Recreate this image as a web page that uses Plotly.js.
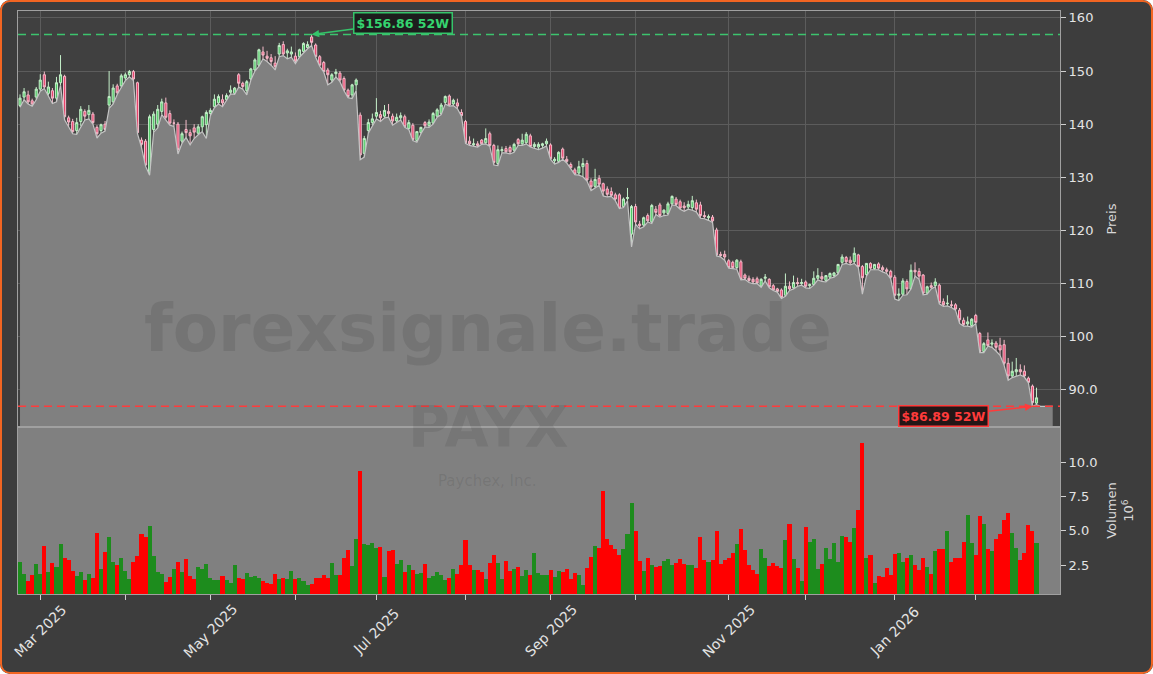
<!DOCTYPE html>
<html>
<head>
<meta charset="utf-8">
<script src="https://cdn.plot.ly/plotly-3.0.1.min.js"></script>
<style>
html,body{margin:0;padding:0;background:#ffffff;}
#wrap{position:relative;width:1153px;height:674px;border-radius:10px;overflow:hidden;}
#chart{position:absolute;left:0;top:0;width:1153px;height:674px;}
#frame{position:absolute;left:0;top:0;right:0;bottom:0;border:2px solid #f26522;border-radius:10px;pointer-events:none;}
</style>
</head>
<body>
<div id="wrap"><div id="chart"></div><div id="frame"></div></div>
<script>
// ---- data (PAYX daily, 2025-02-24 .. 2026-02-24) ----
const startDate = '2025-02-24';
const endDate = '2026-02-24';
const holidays = ['2025-04-18','2025-05-26','2025-06-19','2025-07-04','2025-09-01','2025-11-27','2025-12-25','2026-01-01','2026-01-19','2026-02-16'];
const futureDates = ['2026-02-25','2026-02-26','2026-02-27','2026-03-02'];

const openP = [
143.5,145.1,145.5,144.4,145.1,146.6,149.3,145.8,146.3,144.9,
147.8,149.0,141.2,140.5,138.8,140.5,142.4,141.8,141.9,139.4,
138.8,140.0,143.6,144.2,147.2,147.2,148.7,149.3,149.9,147.8,
137.0,136.8,130.8,139.0,140.0,142.4,144.0,142.0,140.2,140.0,
136.8,139.0,138.4,139.3,138.3,139.5,139.9,142.0,143.3,144.0,
144.6,144.6,146.0,145.8,149.3,147.7,146.3,148.5,150.2,151.1,
153.6,152.8,152.5,151.5,153.2,155.0,153.4,153.2,152.8,152.7,
153.7,154.4,156.4,154.9,152.7,151.6,150.2,148.3,149.5,149.6,
148.6,146.4,145.5,147.4,141.7,134.5,138.8,140.3,141.5,141.8,
141.5,142.4,141.5,140.6,141.2,141.4,139.2,139.8,136.9,138.4,
140.3,139.7,140.2,141.5,142.0,144.1,145.3,143.8,144.0,142.2,
140.5,136.8,136.1,136.3,137.0,136.5,138.2,136.0,132.6,135.0,
135.4,135.6,135.1,137.1,136.3,136.5,137.8,135.8,135.7,136.0,
136.3,136.1,133.1,133.0,135.3,133.4,132.4,131.4,130.8,132.0,
132.6,129.3,128.3,129.8,128.8,127.8,127.3,126.7,126.7,124.5,
126.0,119.3,124.5,121.2,121.0,122.8,121.6,124.0,124.8,123.3,
123.2,125.0,125.9,125.4,124.6,124.4,124.3,125.2,124.8,122.8,
122.4,122.5,120.1,115.5,115.5,114.3,114.0,113.0,114.1,111.6,
111.0,110.8,110.9,109.5,111.0,110.8,109.6,109.0,108.8,107.8,
109.5,109.2,110.2,110.0,110.3,109.6,109.8,111.0,111.3,110.6,
111.2,111.5,112.0,114.0,114.9,114.4,114.1,115.4,113.2,111.7,
113.8,112.8,113.7,113.0,112.6,112.3,111.2,107.8,108.0,110.4,
109.0,112.5,112.3,111.6,108.2,109.6,109.6,109.7,106.6,106.2,
106.0,106.0,105.0,103.1,102.4,102.1,104.0,100.6,97.2,99.4,
98.6,98.8,98.4,98.5,95.0,92.6,93.4,93.8,93.5,92.2,
90.7,87.5];

const highP = [
145.6,146.8,146.3,144.8,147.0,149.4,149.9,148.0,146.8,148.9,
153.0,149.3,141.6,141.0,141.2,143.4,142.8,143.6,142.3,139.8,
140.1,140.6,150.0,147.5,147.6,149.5,149.7,150.2,150.2,148.0,
137.5,137.2,141.8,142.4,143.6,144.8,145.0,142.6,140.9,140.4,
138.6,140.8,139.0,140.0,140.0,141.6,142.6,143.0,145.6,145.6,
145.6,145.8,147.3,147.0,149.6,148.0,148.3,150.6,152.4,154.2,
154.6,153.8,153.2,152.8,155.3,155.6,154.2,154.6,153.5,154.2,
155.4,155.6,156.86,155.2,153.0,151.9,150.6,149.6,150.4,150.0,
149.0,146.7,147.6,148.6,142.2,137.8,141.0,142.0,144.9,142.5,
143.6,143.8,142.0,142.0,142.2,141.8,140.8,140.2,138.6,139.5,
140.6,140.9,142.3,143.0,144.0,145.4,145.6,144.8,144.8,142.8,
140.8,137.7,137.3,136.8,137.2,139.2,138.6,136.3,136.0,135.8,
135.9,136.0,136.5,137.4,138.2,138.5,138.2,136.6,136.6,136.5,
137.3,136.4,133.8,134.9,135.6,134.0,132.8,131.8,133.1,133.6,
133.2,129.8,131.6,130.4,129.0,128.3,128.1,127.1,127.0,126.2,
128.0,124.8,125.0,121.8,122.6,123.2,125.0,124.6,125.2,124.0,
125.4,126.6,126.3,125.8,125.3,125.6,126.5,125.8,125.4,123.6,
123.0,122.9,120.5,116.0,116.2,114.6,114.3,114.6,114.5,111.9,
111.5,111.2,111.3,111.0,111.8,111.0,109.9,109.2,109.1,111.9,
110.4,111.5,111.1,110.9,110.6,110.0,112.3,112.9,112.2,111.6,
112.1,112.2,113.7,115.5,115.2,115.1,116.8,115.6,113.5,113.8,
114.0,113.7,114.0,113.4,113.0,112.6,111.6,109.1,111.0,110.8,
113.6,114.0,112.9,111.8,109.6,110.2,111.0,110.0,107.2,107.8,
106.8,106.3,105.4,103.6,103.8,103.5,104.3,100.9,99.0,100.8,
99.5,99.2,99.8,99.4,96.0,95.3,96.0,94.8,94.6,92.5,
91.0,90.4];

const lowP = [
143.2,144.6,143.8,143.4,144.6,146.2,146.7,145.4,143.9,144.2,
147.3,140.8,139.6,138.2,138.1,139.6,140.8,141.0,140.0,137.4,
138.3,138.7,143.0,143.8,145.6,146.9,148.2,148.9,148.2,138.2,
135.6,132.1,130.4,138.5,139.3,141.8,140.9,139.8,139.6,134.4,
136.4,137.5,136.1,137.3,138.0,138.6,137.3,141.6,143.1,143.8,
143.3,144.4,145.7,145.6,147.0,146.6,145.5,148.3,150.0,150.9,
152.3,151.8,151.1,150.2,152.7,152.9,152.3,152.6,151.4,152.6,
153.5,154.2,154.8,152.6,150.9,149.8,147.4,147.9,148.9,148.0,
146.3,145.0,144.8,146.3,133.3,133.8,138.3,139.8,141.0,140.5,
141.2,141.3,139.8,140.3,140.8,139.4,139.0,136.9,136.6,138.2,
139.5,139.4,140.0,141.3,141.8,143.8,143.4,143.5,142.9,141.5,
136.4,136.0,135.8,135.7,136.2,136.3,135.8,132.3,132.2,134.6,
134.6,134.4,134.7,136.0,136.0,136.3,135.7,135.4,135.2,135.5,
135.9,133.4,132.5,132.8,133.4,132.7,131.7,130.5,130.4,130.1,
129.3,127.5,128.0,128.5,126.5,126.3,126.4,125.6,124.1,124.3,
125.6,116.9,121.2,120.3,120.7,121.6,121.3,123.0,122.5,122.8,
122.9,124.8,124.7,124.0,123.6,124.0,123.8,123.5,122.3,122.2,
121.9,121.5,115.2,115.0,114.4,112.9,112.8,112.7,110.7,110.8,
110.2,110.0,110.0,109.3,110.5,109.2,108.7,108.4,107.2,107.6,
108.7,109.0,109.5,109.7,109.2,109.1,109.7,110.7,110.4,110.3,
111.0,111.2,111.8,113.6,113.8,113.5,113.8,113.0,108.0,111.4,
112.6,112.6,112.6,112.2,111.9,110.9,107.1,106.8,107.8,107.9,
109.0,111.4,110.8,107.9,108.0,109.0,109.4,106.2,105.7,105.8,
105.5,105.0,102.5,102.0,102.0,101.8,102.5,97.0,97.0,98.2,
98.0,97.3,96.5,94.6,91.8,92.3,92.6,92.8,92.4,91.3,
86.89,87.2];

const closeP = [
144.9,146.1,144.2,143.8,146.6,148.3,147.0,147.0,144.9,147.8,
149.3,141.4,140.4,138.6,140.3,142.8,141.5,142.6,140.3,138.2,
139.9,139.0,145.2,146.8,145.9,149.1,149.3,149.9,148.5,138.4,
136.2,132.3,141.4,141.9,142.8,144.2,141.3,140.2,140.2,135.2,
138.2,138.4,137.8,138.5,139.5,141.4,142.2,142.6,144.7,145.2,
144.0,145.4,146.4,146.8,147.7,147.1,148.0,150.4,152.1,154.0,
153.0,152.4,151.8,150.8,154.8,153.2,153.8,153.6,151.9,154.0,
155.2,155.0,155.4,152.7,151.1,149.9,149.3,149.3,149.8,148.3,
146.4,145.2,147.4,148.3,134.2,137.3,140.3,141.0,142.2,141.2,
142.6,142.0,140.6,141.3,141.6,139.5,140.3,137.1,138.6,139.4,
139.7,140.4,142.0,142.7,143.6,145.2,143.6,144.5,143.4,141.6,
136.5,136.3,136.3,136.0,136.3,137.3,136.0,132.8,135.2,135.2,
134.8,134.8,136.2,136.3,137.0,138.1,135.8,136.2,136.2,136.3,
136.8,133.5,133.4,134.7,133.6,133.0,131.8,130.6,132.0,132.6,
129.5,128.2,129.6,128.7,127.4,126.8,126.6,125.9,124.2,125.9,
126.2,124.5,121.6,120.9,122.4,121.8,124.7,123.4,122.8,123.8,
125.0,126.4,124.9,124.2,124.3,124.9,125.6,124.0,122.8,122.6,
122.6,121.8,115.4,115.3,115.0,113.0,113.0,114.4,110.8,111.0,
110.6,110.3,110.1,110.8,111.2,109.4,108.8,108.5,107.4,109.5,
109.0,110.2,110.0,110.2,109.5,109.8,111.0,111.5,110.9,111.5,
111.9,112.0,113.6,115.0,114.1,113.9,115.7,113.2,111.1,113.8,
112.9,113.6,112.9,112.6,112.3,111.2,107.8,108.0,110.5,109.0,
112.5,112.2,111.4,108.2,109.4,109.3,110.3,106.4,106.0,106.3,
105.9,105.2,103.2,102.3,102.8,103.3,102.7,97.2,98.7,98.3,
98.8,98.0,97.5,95.0,92.6,93.5,93.8,93.4,92.6,91.4,
87.6,88.5];

const volumeM = [
2.72,1.84,1.36,1.77,2.57,1.84,3.88,1.99,2.62,2.35,
4.03,3.01,2.87,2.09,1.70,1.99,1.41,1.84,1.55,4.83,
2.21,3.45,4.56,2.72,2.50,3.01,2.06,1.48,2.72,3.16,
4.76,4.56,5.34,3.16,1.99,1.84,1.26,1.63,2.21,2.72,
1.99,2.94,1.70,1.48,2.35,2.21,2.57,1.55,1.41,1.41,
1.70,1.41,1.19,2.50,1.55,1.48,1.92,1.63,1.70,1.55,
1.33,1.19,1.12,1.84,1.48,1.55,1.48,2.06,1.48,1.55,
1.33,1.04,1.12,1.55,1.55,1.77,1.55,2.64,1.77,1.77,
3.01,3.59,2.43,4.39,9.34,4.03,3.96,4.10,3.74,3.81,
1.63,3.52,3.59,2.57,2.87,1.99,2.50,2.14,1.84,1.92,
2.57,1.55,1.70,1.99,1.77,1.41,1.55,2.21,1.84,2.50,
4.32,2.50,2.14,2.14,1.99,1.48,2.64,3.23,2.64,1.48,
2.79,2.06,2.21,2.35,1.70,2.14,1.77,3.38,1.92,1.77,
1.77,2.14,1.63,2.06,1.99,2.21,1.48,1.92,1.77,1.04,
2.28,3.08,3.88,3.74,7.89,4.39,3.96,3.67,3.23,3.67,
4.76,7.01,4.98,2.79,2.06,3.01,2.50,2.35,2.43,2.79,
2.94,2.50,2.64,2.94,2.57,2.50,2.50,2.28,4.54,2.90,
2.72,2.87,4.98,2.57,2.87,3.01,3.38,4.03,5.12,3.59,
2.50,2.14,1.84,3.67,3.01,2.43,2.64,2.43,2.28,4.32,
5.49,2.94,2.28,1.33,5.27,4.17,4.39,2.21,2.57,3.74,
2.94,4.10,2.72,4.61,4.54,4.17,5.19,6.50,11.38,3.01,
3.23,1.19,1.70,1.63,2.28,1.77,3.30,3.38,2.72,3.01,
3.23,2.50,2.14,3.01,2.35,1.84,3.52,3.67,3.67,4.98,
2.72,3.01,3.01,4.17,6.14,4.10,3.23,6.07,5.49,3.67,
3.52,4.39,4.76,5.78,6.29,4.83,3.74,2.87,3.38,5.41,
4.98,4.10];

const priceTicks = [90,100,110,120,130,140,150,160];
const priceTickText = ['90.0','100','110','120','130','140','150','160'];
const volTicks = [2.5,5.0,7.5,10.0];
const volTickText = ['2.5','5.0','7.5','10.0'];
const monthNames = ['Jan','Feb','Mar','Apr','May','Jun','Jul','Aug','Sep','Oct','Nov','Dec'];
const high52 = 156.86, low52 = 86.89;

// ---- trading calendar ----
function tradingDays(s, e, hol){
  const out = [];
  const d = new Date(s + 'T00:00:00Z');
  const end = new Date(e + 'T00:00:00Z');
  while (d <= end){
    const wd = d.getUTCDay();
    const iso = d.toISOString().slice(0,10);
    if (wd !== 0 && wd !== 6 && hol.indexOf(iso) < 0) out.push(iso);
    d.setUTCDate(d.getUTCDate()+1);
  }
  return out;
}
const dates = tradingDays(startDate, endDate, holidays);
const allDates = dates.concat(futureDates);

const tickVals = [], labelVals = [], labelText = [];
for (let i = 1; i < dates.length; i++){
  if (dates[i].slice(5,7) !== dates[i-1].slice(5,7)){
    tickVals.push(dates[i]);
    const m = parseInt(dates[i].slice(5,7),10);
    if (m % 2 === 1){ labelVals.push(dates[i]); labelText.push(monthNames[m-1] + ' ' + dates[i].slice(0,4)); }
  }
}
const volColors = closeP.map((c,i)=> c >= openP[i] ? '#1d8c1d' : '#ff0000');
const iHigh = highP.indexOf(high52);
const iLow = lowP.indexOf(low52);

const traces = [
  {type:'scatter', mode:'lines', x: allDates, y: lowP.concat(futureDates.map(()=>low52)),
   fill:'tozeroy', fillcolor:'#808080', line:{color:'#c4c4c4', width:1.2},
   xaxis:'x', yaxis:'y', hoverinfo:'skip'},
  {type:'candlestick', x: dates, open: openP, high: highP, low: lowP, close: closeP,
   increasing:{line:{color:'#c4efc9', width:1}, fillcolor:'#4fc965'},
   decreasing:{line:{color:'#f5bccb', width:1}, fillcolor:'#e8446c'},
   whiskerwidth:0, xaxis:'x', yaxis:'y', hoverinfo:'skip'},
  {type:'bar', x: dates, y: volumeM, marker:{color: volColors, line:{width:0}},
   xaxis:'x2', yaxis:'y2', hoverinfo:'skip'}
];

const grid = '#5c5c5c', frame = '#a0a0a0', tickCol = '#d0d0d0', txt = '#e4e4e4';

const annots = [
  {xref:'paper', yref:'paper', x:0.451, y:0.456, text:'<b>forexsignale.trade</b>', showarrow:false,
   font:{family:'DejaVu Sans', size:66, color:'rgba(40,40,40,0.13)'}},
  {xref:'paper', yref:'paper', x:0.451, y:0.2264, text:'<b>PAYX</b>', showarrow:false,
   font:{family:'DejaVu Sans', size:57, color:'rgba(40,40,40,0.11)'}},
  {xref:'paper', yref:'paper', x:0.451, y:0.175, text:'Paychex, Inc.', showarrow:false,
   font:{family:'DejaVu Sans', size:15, color:'rgba(40,40,40,0.12)'}},
  {xref:'x', yref:'y', x: dates[iHigh], y: high52, text:'<b>$156.86 52W</b>',
   showarrow:true, axref:'pixel', ayref:'pixel', ax:91, ay:-12, arrowhead:2, arrowsize:1,
   arrowwidth:1.5, arrowcolor:'#35c46a', standoff:0,
   font:{family:'DejaVu Sans', size:12.5, color:'#35d46f'}, bgcolor:'#1d1d1d',
   bordercolor:'#35c46a', borderwidth:1.5, borderpad:2},
  {xref:'x', yref:'y', x: dates[iLow], y: low52, text:'<b>$86.89 52W</b>',
   showarrow:true, axref:'pixel', ayref:'pixel', ax:-89, ay:10, arrowhead:2, arrowsize:1,
   arrowwidth:1.5, arrowcolor:'#ff3b3b', standoff:0,
   font:{family:'DejaVu Sans', size:12.5, color:'#ff3b3b'}, bgcolor:'#241616',
   bordercolor:'#ff3b3b', borderwidth:1.5, borderpad:2}
];
// x tick labels, rotated 45 degrees and centred on their ticks
labelVals.forEach((v,k)=>{
  annots.push({xref:'x2', yref:'paper', x:v, y:-0.0635, text:labelText[k], showarrow:false,
    textangle:-45, xanchor:'center', yanchor:'middle',
    font:{family:'DejaVu Sans', size:14, color:txt}});
});

const layout = {
  width:1153, height:674,
  paper_bgcolor:'#3d3d3d', plot_bgcolor:'#404040',
  margin:{l:18, r:93, t:11, b:80},
  showlegend:false, bargap:0, boxgap:0.25,
  font:{family:'DejaVu Sans', color:txt, size:13},
  xaxis:{type:'category', categoryorder:'array', categoryarray: allDates, range:[-0.5,256.8],
         anchor:'y', tickvals: tickVals, ticks:'', showticklabels:false,
         showgrid:true, gridcolor:grid, gridwidth:1, showline:true, mirror:true, linecolor:frame,
         linewidth:1, zeroline:false, rangeslider:{visible:false}, fixedrange:true},
  yaxis:{domain:[0.2864,1], side:'right', anchor:'x', range:[83.0,161.3],
         tickvals: priceTicks, ticktext: priceTickText, ticks:'outside', ticklen:5, tickcolor:tickCol,
         showgrid:true, gridcolor:grid, showline:true, mirror:true, linecolor:frame, zeroline:false,
         tickfont:{size:13, color:txt},
         title:{text:'Preis', font:{size:13, color:'#d8d8d8'}, standoff:10}},
  xaxis2:{type:'category', categoryorder:'array', categoryarray: allDates, range:[-0.5,256.8],
          anchor:'y2', matches:'x', tickvals: tickVals, showticklabels:false,
          ticks:'outside', ticklen:5, tickcolor:tickCol, showgrid:false, showline:true, mirror:true,
          linecolor:frame, zeroline:false},
  yaxis2:{domain:[0,0.2864], side:'right', anchor:'x2', range:[0.39,12.55],
          tickvals: volTicks, ticktext: volTickText, ticks:'outside', ticklen:5, tickcolor:tickCol,
          showgrid:false, showline:true, mirror:true, linecolor:frame, zeroline:false,
          tickfont:{size:13, color:txt},
          title:{text:'Volumen<br>10<sup>6</sup>', font:{size:13, color:'#d8d8d8'}, standoff:10}},
  shapes:[
    {type:'rect', xref:'x2 domain', yref:'y2 domain', x0:0, x1:1, y0:0, y1:1,
     fillcolor:'#808080', line:{width:0}, layer:'below'},
    {type:'line', xref:'x domain', yref:'y', x0:0, x1:1, y0:high52, y1:high52,
     line:{color:'#3cc46e', width:1.5, dash:'8px,5px'}},
    {type:'line', xref:'x domain', yref:'y', x0:0, x1:1, y0:low52, y1:low52,
     line:{color:'#ff3b3b', width:1.5, dash:'8px,5px'}}
  ],
  annotations: annots
};

Plotly.newPlot('chart', traces, layout, {displayModeBar:false, staticPlot:true});
</script>
</body>
</html>
